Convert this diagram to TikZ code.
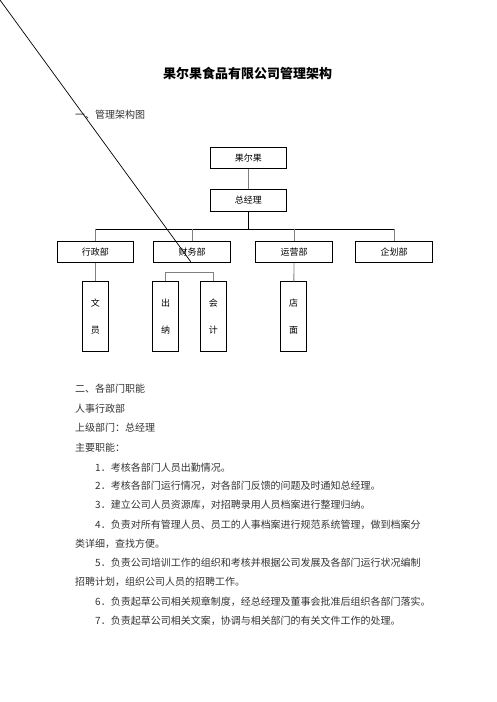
\documentclass[tikz,border=0pt]{standalone}
\usepackage{fontspec}
\setmainfont{Noto Sans CJK SC}
\usetikzlibrary{positioning}

\tikzset{
  unit/.style={draw,line width=0.8pt,minimum width=76.5pt,minimum height=21.5pt,inner sep=0pt,font=\fontsize{9}{11}\selectfont},
  tallunit/.style={draw,line width=0.8pt,minimum width=26pt,minimum height=70pt,inner sep=0pt,align=center,font=\fontsize{9}{27.4}\selectfont},
  conn/.style={draw,gray,line width=0.8pt},
  bodyline/.style={anchor=west,inner sep=0pt,text=black!80,font=\fontsize{10}{12}\selectfont}
}

\begin{document}
\begin{tikzpicture}[x=1pt,y=-1pt]
  \useasboundingbox (0,0) rectangle (496,702);

  % title and first heading
  \node[inner sep=0pt,font=\fontsize{13}{15}\selectfont\bfseries] (title) at (247.5,73.3) {果尔果食品有限公司管理架构};
  \node[bodyline] (head1) at (75,115) {一、管理架构图};

  % chart
  \node[unit] (company) at (248.3,157.8) {果尔果};
  \node[unit] (manager) at (248.3,200.2) {总经理};
  \coordinate (bus) at (248.3,229);

  \node[unit] (admin) at (95.3,251.8) {行政部};
  \node[unit] (finance) at (192,251.8) {财务部};
  \node[unit] (ops) at (294,251.8) {运营部};
  \node[unit] (plan) at (394,251.8) {企划部};

  \node[tallunit] (clerk) at (95.3,316.7) {文\\员};
  \node[tallunit] (cashier) at (165.5,316.7) {出\\纳};
  \node[tallunit] (account) at (213.3,316.7) {会\\计};
  \node[tallunit] (store) at (293.7,316.7) {店\\面};

  \draw[conn] (company) -- (manager);
  \draw[line width=0.8pt] (manager) -- (bus);
  \draw[line width=0.8pt] (admin.north |- bus) -- (plan.north |- bus);
  \foreach \dept in {admin,finance,ops,plan}
    \draw[conn] (\dept.north |- bus) -- (\dept.north);
  \draw[conn] (admin) -- (clerk);
  \draw[conn] (ops) -- (store);
  \draw[conn] (cashier.north) -- ++(0,-9) -| (account.north);

  % stray stroke across the page
  \coordinate (corner) at (0,0);
  \coordinate (strokeend) at (190.7,261.7);
  \draw[line width=0.7pt] (corner) -- (strokeend);

  % second section
  \node[bodyline] (head2) at (75,388.3) {二、各部门职能};
  \node[bodyline] (dept) at (75,408.3) {人事行政部};
  \node[bodyline] (upper) at (75,427.3) {上级部门：总经理};
  \node[bodyline] (duty) at (75,447.3) {主要职能：};
  \node[bodyline] (item1) at (95,467.3) {1．考核各部门人员出勤情况。};
  \node[bodyline] (item2) at (95,486) {2．考核各部门运行情况，对各部门反馈的问题及时通知总经理。};
  \node[bodyline] (item3) at (95,505) {3．建立公司人员资源库，对招聘录用人员档案进行整理归纳。};
  \node[bodyline] (item4) at (95,525) {4．负责对所有管理人员、员工的人事档案进行规范系统管理，做到档案分};
  \node[bodyline] (item4b) at (75,543.3) {类详细，查找方便。};
  \node[bodyline] (item5) at (95,562.7) {5．负责公司培训工作的组织和考核并根据公司发展及各部门运行状况编制};
  \node[bodyline] (item5b) at (75,581.7) {招聘计划，组织公司人员的招聘工作。};
  \node[bodyline] (item6) at (95,601.7) {6．负责起草公司相关规章制度，经总经理及董事会批准后组织各部门落实。};
  \node[bodyline] (item7) at (95,620.7) {7．负责起草公司相关文案，协调与相关部门的有关文件工作的处理。};
\end{tikzpicture}
\end{document}
